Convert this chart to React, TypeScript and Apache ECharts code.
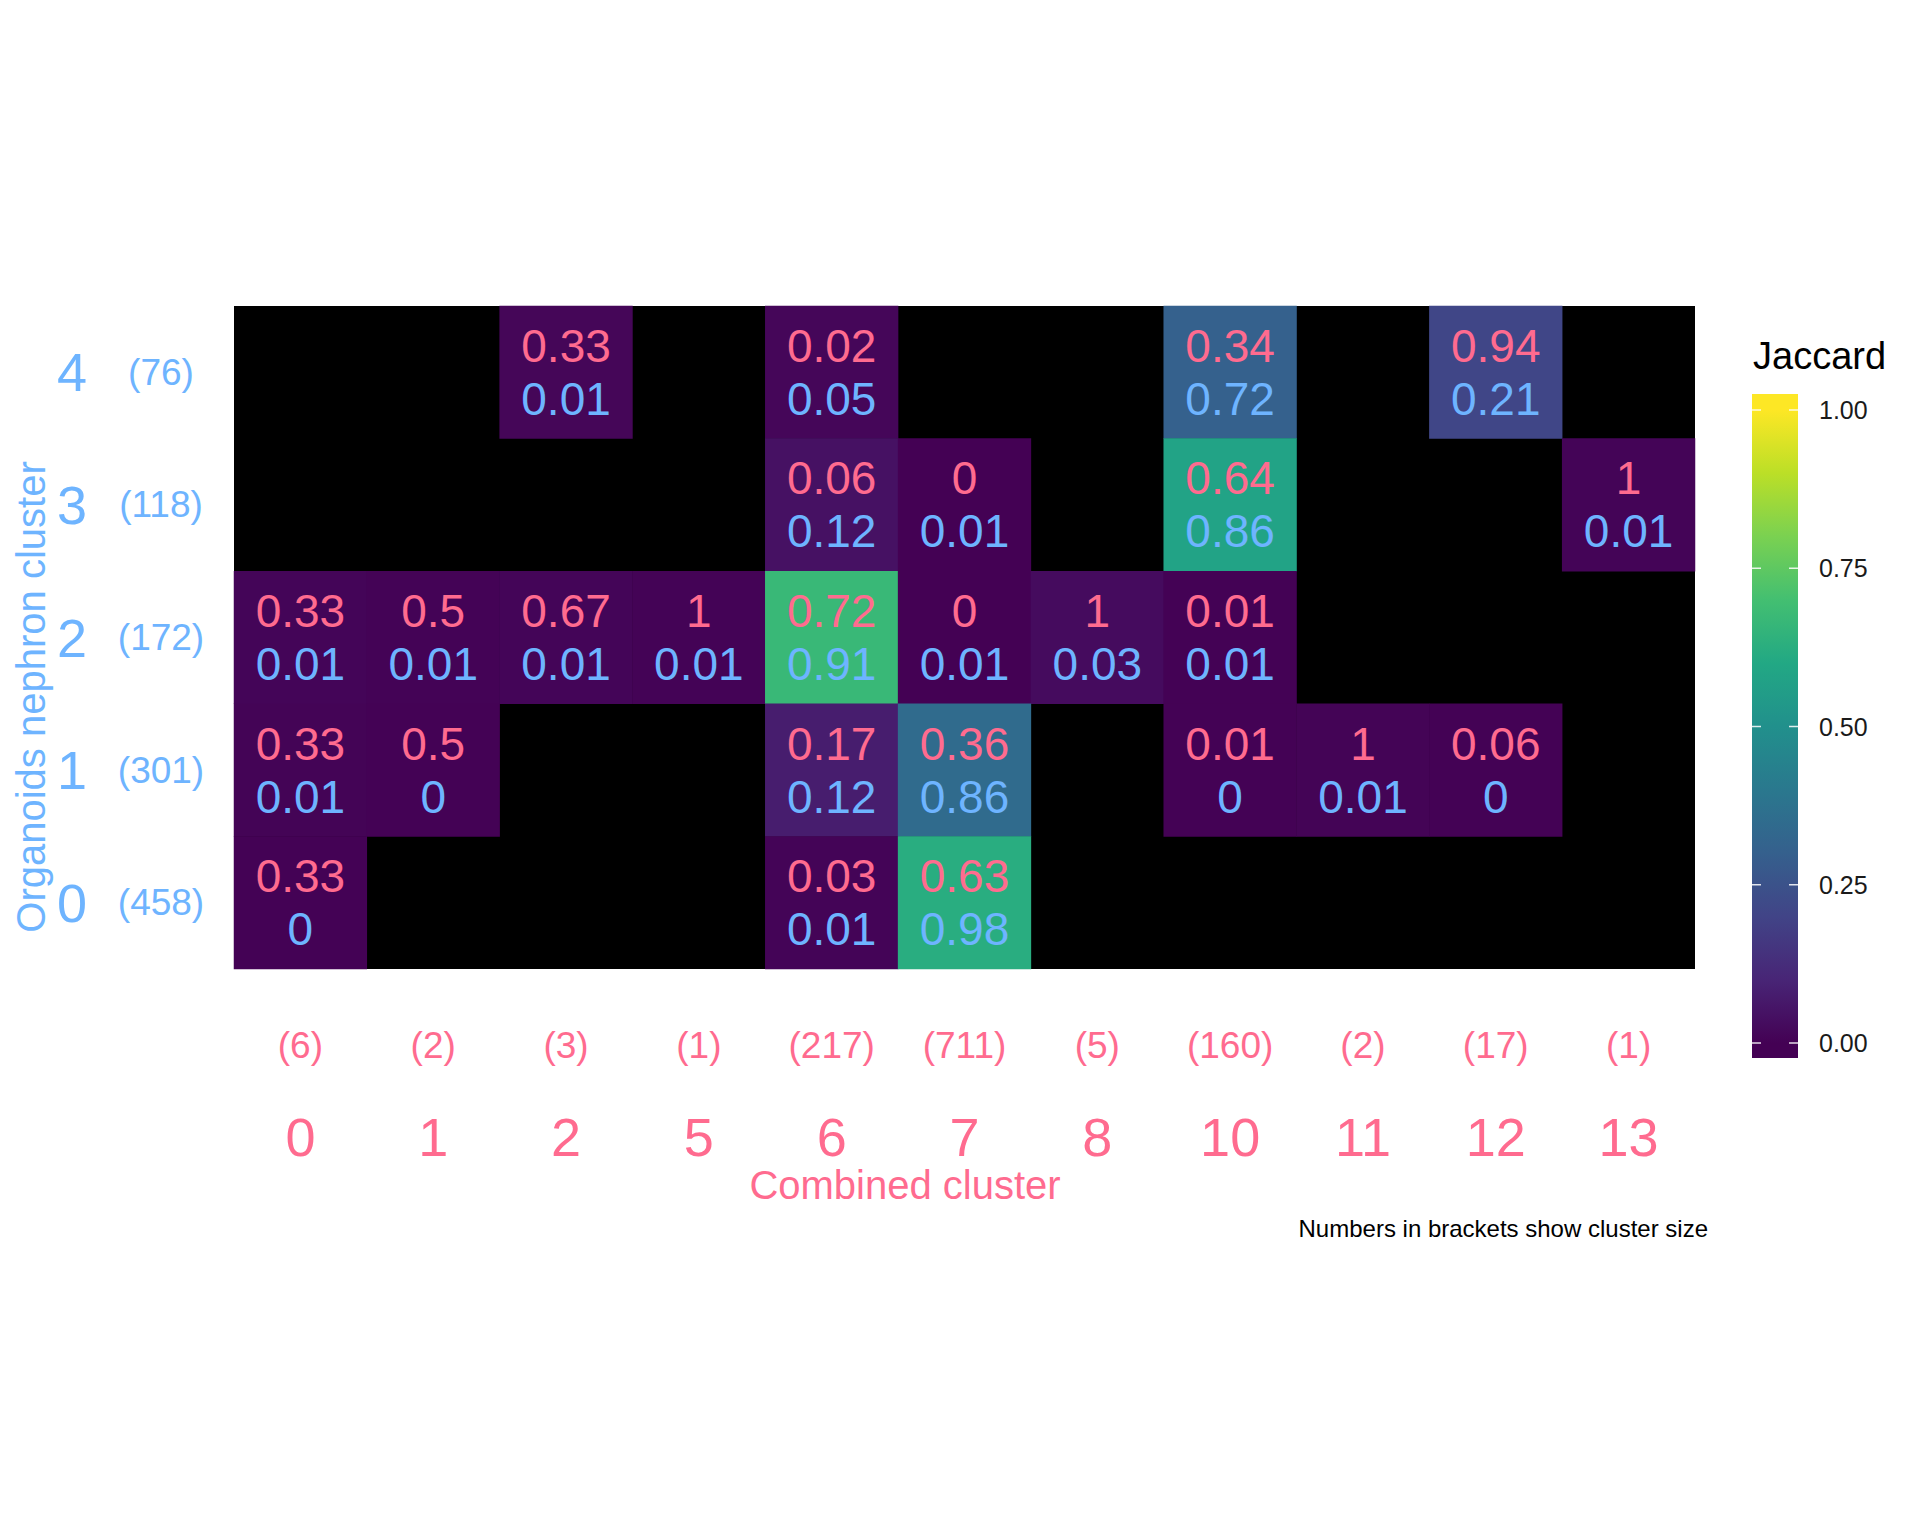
import React, { useEffect, useRef } from "react";
import * as echarts from "echarts";

// ---------- data ----------
const combinedClusters = ["0", "1", "2", "5", "6", "7", "8", "10", "11", "12", "13"];
const combinedSizes = [6, 2, 3, 1, 217, 711, 5, 160, 2, 17, 1];
const organoidClusters = ["0", "1", "2", "3", "4"];
const organoidSizes = [458, 301, 172, 118, 76];

// [combined index, organoid index, jaccard (fill), fraction of combined (pink), fraction of organoid (blue)]
const cells: [number, number, number, number, number][] = [
  [2, 4, 0.013, 0.33, 0.01],
  [4, 4, 0.014, 0.02, 0.05],
  [7, 4, 0.304, 0.34, 0.72],
  [9, 4, 0.208, 0.94, 0.21],
  [4, 3, 0.044, 0.06, 0.12],
  [5, 3, 0.001, 0, 0.01],
  [7, 3, 0.58, 0.64, 0.86],
  [10, 3, 0.008, 1, 0.01],
  [0, 2, 0.011, 0.33, 0.01],
  [1, 2, 0.006, 0.5, 0.01],
  [2, 2, 0.012, 0.67, 0.01],
  [3, 2, 0.006, 1, 0.01],
  [4, 2, 0.67, 0.72, 0.91],
  [5, 2, 0.001, 0, 0.01],
  [6, 2, 0.029, 1, 0.03],
  [7, 2, 0.003, 0.01, 0.01],
  [0, 1, 0.007, 0.33, 0.01],
  [1, 1, 0.003, 0.5, 0],
  [4, 1, 0.077, 0.17, 0.12],
  [5, 1, 0.344, 0.36, 0.86],
  [7, 1, 0.002, 0.01, 0],
  [8, 1, 0.007, 1, 0.01],
  [9, 1, 0.003, 0.06, 0],
  [0, 0, 0.004, 0.33, 0],
  [4, 0, 0.009, 0.03, 0.01],
  [5, 0, 0.621, 0.63, 0.98],
];

const legendTicks = [0, 0.25, 0.5, 0.75, 1];

// ---------- styles ----------
const PINK = "#FF6B8F";
const BLUE = "#6EB4FF";
const FONT = "'Liberation Sans', Arial, Helvetica, sans-serif";
const viridis = [
  "#440154", "#482576", "#414487", "#35608D", "#2A788E", "#21908C",
  "#22A884", "#43BF71", "#7AD151", "#BBDF27", "#FDE725",
];

const GRID = { left: 234, top: 306, width: 1461, height: 663 };
const BAR = { x: 1752, y: 394, w: 46, h: 664, y0: 1043, y1: 410 };

export default function App() {
  const ref = useRef<HTMLDivElement>(null);

  useEffect(() => {
    document.body.style.margin = "0";
    if (!ref.current) return;
    const chart = echarts.init(ref.current, undefined, { renderer: "svg" });

    const span = BAR.y0 - BAR.y1;
    const stops: { offset: number; color: string }[] = [{ offset: 0, color: viridis[viridis.length - 1] }];
    for (let i = viridis.length - 1; i >= 0; i--) {
      const v = i / (viridis.length - 1);
      const y = BAR.y0 - v * span;
      stops.push({ offset: (y - BAR.y) / BAR.h, color: viridis[i] });
    }
    stops.push({ offset: 1, color: viridis[0] });

    const legendEls: any[] = [
      {
        type: "rect",
        shape: { x: BAR.x, y: BAR.y, width: BAR.w, height: BAR.h },
        style: { fill: new echarts.graphic.LinearGradient(0, 0, 0, 1, stops) },
      },
      {
        type: "text",
        x: BAR.x + 1,
        y: 356,
        style: { text: "Jaccard", fontSize: 38, fill: "#000", font: `38px ${FONT}`, verticalAlign: "middle", align: "left" },
      },
    ];
    legendTicks.forEach((t) => {
      const y = BAR.y0 - t * span;
      legendEls.push(
        { type: "line", shape: { x1: BAR.x, y1: y, x2: BAR.x + 9, y2: y }, style: { stroke: "rgba(255,255,255,0.85)", lineWidth: 1.5 } },
        { type: "line", shape: { x1: BAR.x + BAR.w - 9, y1: y, x2: BAR.x + BAR.w, y2: y }, style: { stroke: "rgba(255,255,255,0.85)", lineWidth: 1.5 } },
        {
          type: "text",
          x: 1819,
          y,
          style: { text: t.toFixed(2), fill: "#1a1a1a", font: `25px ${FONT}`, verticalAlign: "middle", align: "left" },
        }
      );
    });

    const option: any = {
      animation: false,
      backgroundColor: "#fff",
      textStyle: { fontFamily: FONT },
      grid: { ...GRID, show: true, backgroundColor: "#000", borderWidth: 0 },
      xAxis: [
        {
          type: "category",
          data: combinedClusters,
          position: "bottom",
          axisLine: { show: false },
          axisTick: { show: false },
          splitLine: { show: false },
          axisLabel: { margin: 168, verticalAlign: "middle", color: PINK, fontSize: 54, fontFamily: FONT },
        },
        {
          type: "category",
          data: combinedSizes.map((n) => `(${n})`),
          position: "bottom",
          axisLine: { show: false },
          axisTick: { show: false },
          splitLine: { show: false },
          axisLabel: { margin: 76, verticalAlign: "middle", color: PINK, fontSize: 37, fontFamily: FONT },
        },
      ],
      yAxis: [
        {
          type: "category",
          data: organoidClusters,
          position: "left",
          axisLine: { show: false },
          axisTick: { show: false },
          splitLine: { show: false },
          axisLabel: { margin: 162, align: "center", verticalAlign: "middle", color: BLUE, fontSize: 54, fontFamily: FONT },
        },
        {
          type: "category",
          data: organoidSizes.map((n) => `(${n})`),
          position: "left",
          axisLine: { show: false },
          axisTick: { show: false },
          splitLine: { show: false },
          axisLabel: { margin: 73, align: "center", verticalAlign: "middle", color: BLUE, fontSize: 37, fontFamily: FONT },
        },
      ],
      visualMap: {
        show: false,
        type: "continuous",
        min: 0,
        max: 1,
        dimension: 2,
        seriesIndex: 0,
        inRange: { color: viridis },
      },
      series: [
        {
          type: "heatmap",
          xAxisIndex: 0,
          yAxisIndex: 0,
          data: cells.map((c) => ({ value: [c[0], c[1], c[2]], pink: c[3], blue: c[4] })),
          itemStyle: { borderWidth: 0 },
          emphasis: { disabled: true },
          label: {
            show: true,
            formatter: (p: any) => `{p|${String(p.data.pink)}}\n{b|${String(p.data.blue)}}`,
            rich: {
              p: { color: PINK, fontSize: 46, lineHeight: 53, fontFamily: FONT, align: "center" },
              b: { color: BLUE, fontSize: 46, lineHeight: 53, fontFamily: FONT, align: "center" },
            },
          },
        },
      ],
      graphic: [
        {
          type: "text",
          x: 31,
          y: 697,
          rotation: Math.PI / 2,
          style: { text: "Organoids nephron cluster", fill: BLUE, font: `40px ${FONT}`, align: "center", verticalAlign: "middle" },
        },
        {
          type: "text",
          x: 905,
          y: 1185,
          style: { text: "Combined cluster", fill: PINK, font: `40px ${FONT}`, align: "center", verticalAlign: "middle" },
        },
        {
          type: "text",
          x: 1708,
          y: 1228,
          style: { text: "Numbers in brackets show cluster size", fill: "#000", font: `24px ${FONT}`, align: "right", verticalAlign: "middle" },
        },
        ...legendEls,
      ],
    };

    chart.setOption(option);
    return () => chart.dispose();
  }, []);

  return <div ref={ref} style={{ position: "absolute", left: 0, top: 0, width: 1920, height: 1536 }} />;
}
